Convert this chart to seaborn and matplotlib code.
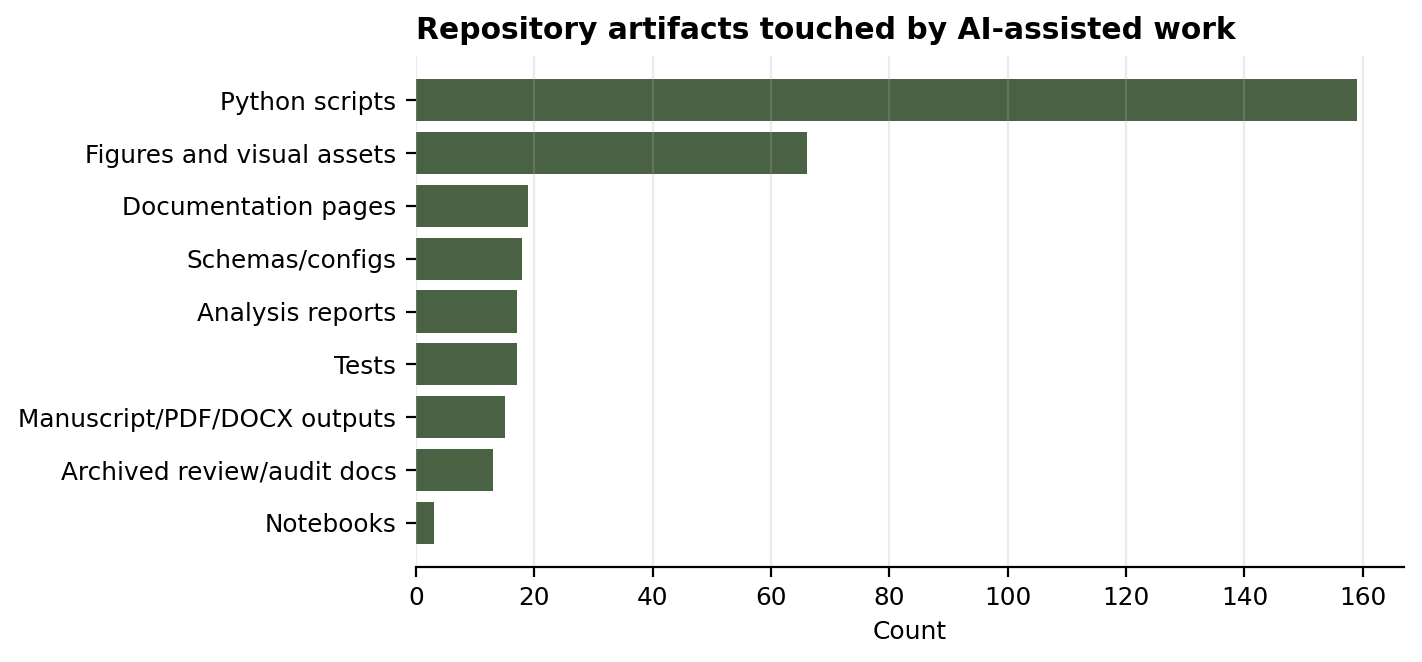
import matplotlib
matplotlib.use("Agg")
import matplotlib.pyplot as plt
import seaborn as sns
import pandas as pd

# Artifact categories and how many of each were touched
categories = [
    "Python scripts",
    "Figures and visual assets",
    "Documentation pages",
    "Schemas/configs",
    "Analysis reports",
    "Tests",
    "Manuscript/PDF/DOCX outputs",
    "Archived review/audit docs",
    "Notebooks",
]
counts = [159, 66, 19, 18, 17, 17, 15, 13, 3]

df = pd.DataFrame({"category": categories, "count": counts})

plt.rcParams["font.family"] = ["DejaVu Sans"]

fig, ax = plt.subplots(figsize=(7.11, 3.31), dpi=200)
fig.subplots_adjust(left=0.2925, right=0.9873, top=0.9154, bottom=0.1435)

sns.barplot(data=df, x="count", y="category", orient="h",
            color="#4a6244", saturation=1, width=0.8, ax=ax)

ax.set_ylim(8.84, -0.84)
ax.set_xlim(0, max(counts) * 1.05)
ax.set_xticks([0, 20, 40, 60, 80, 100, 120, 140, 160])

ax.grid(axis="x", alpha=0.25)
ax.grid(axis="y", visible=False)

for side in ["top", "right", "left"]:
    ax.spines[side].set_visible(False)

ax.tick_params(axis="both", labelsize=8.93, colors="black")
ax.set_title("Repository artifacts touched by AI-assisted work",
             loc="left", fontsize=10.72, fontweight="bold")
ax.set_xlabel("Count", fontsize=9, labelpad=3.5)
ax.set_ylabel("")

plt.savefig("out.png", dpi=200)
plt.close()
